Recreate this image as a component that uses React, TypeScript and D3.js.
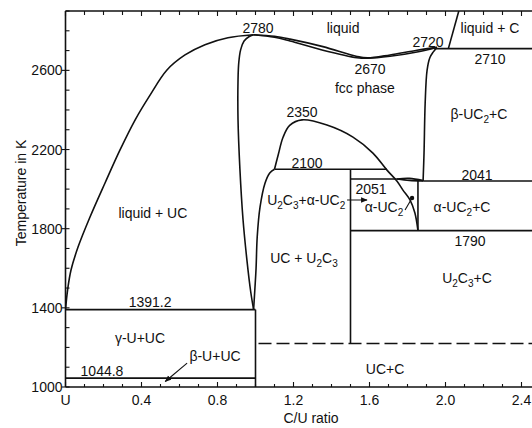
import React from "react";
import * as d3 from "d3";

const W = 532;
const H = 428;

// ---------- axis ticks ----------
const xMajorTicks = [0, 0.4, 0.8, 1.2, 1.6, 2.0, 2.4];
const xTickLabels = ["U", "0.4", "0.8", "1.2", "1.6", "2.0", "2.4"];
const yMajorTicks = [1000, 1400, 1800, 2200, 2600];
const yTickLabels = ["1000", "1400", "1800", "2200", "2600"];

// ---------- phase boundaries (C/U ratio, T in K) ----------
const liquidusUC: [number, number][] = [
  [0, 1391.2], [0.011, 1490], [0.029, 1591], [0.066, 1707], [0.129, 1859],
  [0.208, 2031], [0.287, 2198], [0.366, 2349], [0.445, 2475], [0.534, 2602],
  [0.629, 2678], [0.734, 2730], [0.855, 2765], [0.99, 2780],
];
const ucLeftBoundary: [number, number][] = [
  [0.99, 2780], [0.965, 2770], [0.94, 2748], [0.922, 2705], [0.912, 2640],
  [0.908, 2550], [0.908, 2350], [0.918, 2100], [0.934, 1850], [0.955, 1640],
  [0.975, 1480], [0.99, 1391.2],
];
const ucRightBoundary: [number, number][] = [
  [0.99, 1391.2], [0.997, 1500], [1.003, 1600], [1.009, 1758], [1.024, 1910],
  [1.05, 2030], [1.075, 2082], [1.1, 2100],
];
const u2c3Dome: [number, number][] = [
  [1.1, 2100], [1.12, 2175], [1.145, 2262], [1.18, 2322], [1.245, 2350],
  [1.376, 2324], [1.513, 2263], [1.618, 2182], [1.692, 2096], [1.745, 2040],
  [1.776, 1995], [1.813, 1945], [1.839, 1879], [1.855, 1790],
];
const fccLiquidus: [number, number][] = [
  [0.99, 2780], [1.1, 2772], [1.182, 2758], [1.355, 2720], [1.534, 2670],
  [1.59, 2663], [1.708, 2678], [1.85, 2702], [1.955, 2716],
];
const fccSolidus: [number, number][] = [
  [0.99, 2780], [1.1, 2767], [1.182, 2748], [1.355, 2702], [1.534, 2664],
  [1.59, 2661], [1.708, 2671], [1.85, 2693], [1.955, 2716],
];
const fccRightBoundary: [number, number][] = [
  [1.955, 2716], [1.935, 2692], [1.918, 2665], [1.903, 2600], [1.893, 2435],
  [1.887, 2182], [1.882, 2041],
];
const carbonLiquidus: [number, number][] = [[2.015, 2710], [2.07, 2900]];
const lensUpper2051: [number, number][] = [[1.745, 2051], [1.81, 2054], [1.882, 2043]];
const lensLower2051: [number, number][] = [[1.745, 2051], [1.81, 2044], [1.882, 2041]];

// straight isotherms / boundaries: [x1, T1, x2, T2]
const straightLines: [number, number, number, number][] = [
  [1.94, 2710, 2.7, 2710],
  [1.1, 2100, 1.692, 2100],
  [1.5, 2051, 1.745, 2051],
  [1.882, 2041, 2.7, 2041],
  [1.5, 1790, 2.7, 1790],
  [1.5, 2100, 1.5, 1222],
  [1.855, 2041, 1.855, 1790],
  [0, 1391.2, 1.0, 1391.2],
  [0, 1044.8, 1.0, 1044.8],
  [1.0, 1391.2, 1.0, 1000],
];
const dashedLines: [number, number, number, number][] = [[1.0, 1220, 2.7, 1220]];

// ---------- annotations ([text, C/U, T]); "_" marks a subscript digit ----------
const labels: [string, number, number][] = [
  ["2780", 1.013, 2789],
  ["liquid", 1.461, 2789],
  ["2720", 1.908, 2718],
  ["liquid + C", 2.234, 2789],
  ["2670", 1.603, 2582],
  ["fcc phase", 1.576, 2486],
  ["2710", 2.234, 2632],
  ["β-UC_2+C", 2.176, 2354],
  ["2350", 1.245, 2364],
  ["2100", 1.271, 2107],
  ["2041", 2.166, 2046],
  ["2051", 1.608, 1975],
  ["U_2C_3+α-UC_2", 1.267, 1920],
  ["α-UC_2+C", 2.087, 1884],
  ["α-UC_2", 1.676, 1884],
  ["liquid + UC", 0.46, 1854],
  ["UC + U_2C_3", 1.255, 1627],
  ["1790", 2.129, 1712],
  ["U_2C_3+C", 2.113, 1525],
  ["UC+C", 1.682, 1066],
  ["1391.2", 0.445, 1404],
  ["γ-U+UC", 0.392, 1222],
  ["β-U+UC", 0.787, 1131],
  ["1044.8", 0.192, 1056],
];
// pointers: [x1, T1, x2, T2] arrow at second point
const arrows: [number, number, number, number][] = [
  [1.482, 1945, 1.587, 1945],
  [0.64, 1121, 0.525, 1028],
];
const dotPointers: [number, number, number, number][] = [[1.787, 1894, 1.824, 1955]];

const FONT = "'Liberation Sans', Arial, sans-serif";

function Label({ text, x, y }: { text: string; x: number; y: number }) {
  const parts: { t: string; sub: boolean }[] = [];
  let i = 0;
  while (i < text.length) {
    if (text[i] === "_") {
      parts.push({ t: text[i + 1], sub: true });
      i += 2;
    } else {
      let j = i;
      while (j < text.length && text[j] !== "_") j++;
      parts.push({ t: text.slice(i, j), sub: false });
      i = j;
    }
  }
  const nodes: React.ReactNode[] = [];
  let lowered = false;
  parts.forEach((p, k) => {
    if (p.sub) {
      nodes.push(
        <tspan key={k} fontSize={10} dy={lowered ? 0 : 4}>{p.t}</tspan>
      );
      lowered = true;
    } else {
      nodes.push(
        <tspan key={k} dy={lowered ? -4 : 0}>{p.t}</tspan>
      );
      lowered = false;
    }
  });
  return (
    <text x={x} y={y} textAnchor="middle" fontFamily={FONT} fontSize={14} fill="#111">
      {nodes}
    </text>
  );
}

export default function App() {
  const x = d3.scaleLinear().domain([0, 2.6]).range([65.5, 65.5 + 2.6 * 190]);
  const y = d3.scaleLinear().domain([1000, 2900]).range([387, 11]);
  const line = d3
    .line<[number, number]>()
    .x((d) => x(d[0]))
    .y((d) => y(d[1]))
    .curve(d3.curveCatmullRom.alpha(0.5));

  const curves = [
    liquidusUC, ucLeftBoundary, ucRightBoundary, u2c3Dome, fccLiquidus,
    fccSolidus, fccRightBoundary, carbonLiquidus, lensUpper2051, lensLower2051,
  ];
  const xMinor = d3.range(0, 2.61, 0.1);
  const yMinor = d3.range(1000, 2901, 100);
  const stroke = "#111";
  const x0 = x(0);
  const yTop = y(2900);
  const yBot = y(1000);

  return (
    <svg
      width={W}
      height={H}
      style={{ position: "absolute", left: 0, top: 0, background: "#fff" }}
    >
      <defs>
        <clipPath id="plot">
          <rect x={x0} y={yTop} width={W - x0} height={yBot - yTop} />
        </clipPath>
        <marker id="ah" viewBox="0 0 10 10" refX="9" refY="5" markerWidth="6" markerHeight="6" orient="auto">
          <path d="M0,1 L10,5 L0,9 z" fill={stroke} />
        </marker>
      </defs>
      <rect x={0} y={0} width={W} height={H} fill="#fff" />

      {/* frame */}
      <line x1={x0} y1={yTop} x2={W} y2={yTop} stroke={stroke} strokeWidth={1.6} />
      <line x1={x0} y1={yBot} x2={W} y2={yBot} stroke={stroke} strokeWidth={1.6} />
      <line x1={x0} y1={yTop} x2={x0} y2={yBot} stroke={stroke} strokeWidth={1.6} />

      {/* x ticks */}
      {xMinor.map((v, i) => {
        const major = i % 4 === 0;
        return (
          <g key={"xt" + i}>
            <line x1={x(v)} x2={x(v)} y1={yBot} y2={yBot - (major ? 5 : 3)} stroke={stroke} strokeWidth={1.1} />
            <line x1={x(v)} x2={x(v)} y1={yTop} y2={yTop + (major ? 5 : 4)} stroke={stroke} strokeWidth={1.1} />
          </g>
        );
      })}
      {/* y ticks */}
      {yMinor.map((v, i) => {
        const major = i % 4 === 0;
        return (
          <g key={"yt" + i}>
            <line x1={x0} x2={x0 + 4} y1={y(v)} y2={y(v)} stroke={stroke} strokeWidth={1.1} />
            {major && <line x1={x0 - 4} x2={x0} y1={y(v)} y2={y(v)} stroke={stroke} strokeWidth={1.1} />}
          </g>
        );
      })}

      {/* tick labels */}
      {xMajorTicks.map((v, i) => (
        <text key={"xl" + i} x={x(v)} y={405} textAnchor="middle" fontFamily={FONT} fontSize={14} fill="#111">
          {xTickLabels[i]}
        </text>
      ))}
      {yMajorTicks.map((v, i) => (
        <text key={"yl" + i} x={x0 - 3} y={y(v) + 5} textAnchor="end" fontFamily={FONT} fontSize={14} fill="#111">
          {yTickLabels[i]}
        </text>
      ))}

      {/* axis titles */}
      <text x={311} y={423} textAnchor="middle" fontFamily={FONT} fontSize={14} fill="#111">C/U ratio</text>
      <text
        transform={`translate(26,${193}) rotate(-90)`}
        textAnchor="middle"
        fontFamily={FONT}
        fontSize={14}
        fill="#111"
      >
        Temperature in K
      </text>

      {/* phase diagram */}
      <g clipPath="url(#plot)" fill="none" stroke={stroke} strokeWidth={1.6}>
        {curves.map((c, i) => (
          <path key={"c" + i} d={line(c) || ""} />
        ))}
        {straightLines.map((l, i) => (
          <line key={"s" + i} x1={x(l[0])} y1={y(l[1])} x2={x(l[2])} y2={y(l[3])} />
        ))}
        {dashedLines.map((l, i) => (
          <line key={"d" + i} x1={x(l[0]) + 3} y1={y(l[1])} x2={x(l[2])} y2={y(l[3])} strokeDasharray="13 5" />
        ))}
        {arrows.map((a, i) => (
          <line key={"a" + i} x1={x(a[0])} y1={y(a[1])} x2={x(a[2])} y2={y(a[3])} strokeWidth={1.1} markerEnd="url(#ah)" />
        ))}
        {dotPointers.map((a, i) => (
          <g key={"p" + i}>
            <line x1={x(a[0])} y1={y(a[1])} x2={x(a[2])} y2={y(a[3])} strokeWidth={1.1} />
            <circle cx={x(a[2])} cy={y(a[3])} r={1.4} fill={stroke} />
          </g>
        ))}
      </g>

      {labels.map(([t, cx, T], i) => (
        <Label key={"l" + i} text={t} x={x(cx)} y={y(T)} />
      ))}
    </svg>
  );
}
